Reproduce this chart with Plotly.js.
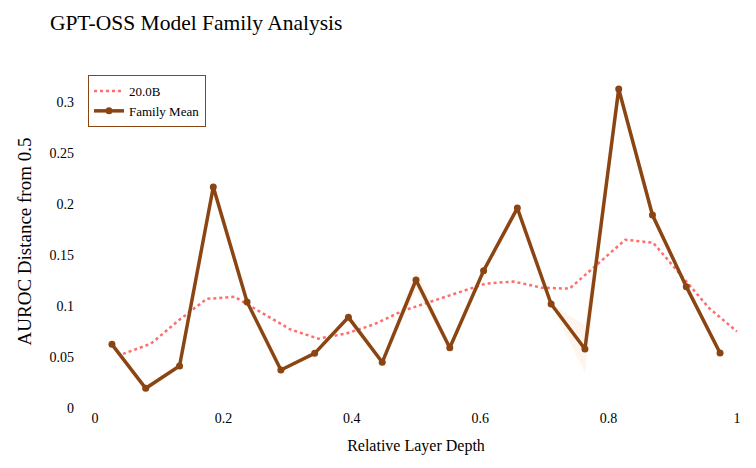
<!DOCTYPE html>
<html>
<head>
<meta charset="utf-8">
<script src="https://cdn.plot.ly/plotly-3.0.1.min.js"></script>
<style>html,body{margin:0;padding:0;background:#fff;}#chart{width:756px;height:468px;}</style>
</head>
<body>
<div id="chart"></div>
<script>
// 20.0B model: relative layer depth (layer / 23) and AUROC distance from 0.5
const modelX = [1/23, 2/23, 3/23, 4/23, 5/23, 6/23, 7/23, 8/23, 9/23, 10/23, 11/23, 12/23,
                13/23, 14/23, 15/23, 16/23, 17/23, 18/23, 19/23, 20/23, 21/23, 22/23, 23/23];
const modelY = [0.053, 0.063, 0.086, 0.107, 0.109, 0.093, 0.077, 0.068, 0.073, 0.082, 0.095, 0.104,
                0.113, 0.122, 0.124, 0.118, 0.117, 0.141, 0.165, 0.162, 0.130, 0.098, 0.075];

// Family mean (binned depth)
const meanX = [0.0263, 0.0789, 0.1316, 0.1842, 0.2368, 0.2895, 0.3421, 0.3947, 0.4474, 0.5,
               0.5526, 0.6053, 0.6579, 0.7105, 0.7632, 0.8158, 0.8684, 0.9211, 0.9737];
const meanY = [0.0624, 0.0193, 0.0412, 0.2167, 0.104, 0.0373, 0.0536, 0.0889, 0.0448, 0.1255,
               0.0591, 0.1346, 0.196, 0.102, 0.0578, 0.3127, 0.1892, 0.119, 0.054];
const meanSpread = [0.002, 0.002, 0.002, 0.002, 0.002, 0.002, 0.002, 0.002, 0.002, 0.010,
                    0.002, 0.002, 0.002, 0.001, 0.023, 0.002, 0.002, 0.002, 0.002];

const lowerY = meanY.map((v, i) => v - meanSpread[i]);
const upperY = meanY.map((v, i) => v + meanSpread[i]);

const FONT = '"Liberation Serif", "Times New Roman", Times, serif';
const BROWN = '#8B4513';

const traces = [
  {x: meanX, y: lowerY, mode: 'lines', line: {width: 0, color: 'rgba(0,0,0,0)'},
   showlegend: false, hoverinfo: 'skip'},
  {x: meanX, y: upperY, mode: 'lines', line: {width: 0, color: 'rgba(0,0,0,0)'},
   fill: 'tonexty', fillcolor: 'rgba(240,140,70,0.09)', showlegend: false, hoverinfo: 'skip'},
  {x: modelX, y: modelY, name: '20.0B', mode: 'lines',
   line: {color: 'rgba(255,60,60,0.75)', width: 2.5, dash: 'dot'}},
  {x: meanX, y: meanY, name: 'Family Mean', mode: 'lines+markers',
   line: {color: BROWN, width: 3.5}, marker: {color: BROWN, size: 7}}
];

const layout = {
  width: 756, height: 468,
  margin: {l: 88, r: 12, t: 75, b: 60},
  paper_bgcolor: '#fff', plot_bgcolor: '#fff',
  font: {family: FONT, size: 14, color: '#000'},
  title: {text: 'GPT-OSS Model Family Analysis', font: {family: FONT, size: 21.5, color: '#000'},
          x: 0.066, xanchor: 'left', y: 0.952, yanchor: 'middle'},
  xaxis: {title: {text: 'Relative Layer Depth', font: {size: 16}, standoff: 14}, range: [-0.011, 1.011],
          showgrid: false, zeroline: false, showline: false, ticks: '',
          tickvals: [0, 0.2, 0.4, 0.6, 0.8, 1], ticktext: ['0', '0.2', '0.4', '0.6', '0.8', '1'],
          tickfont: {size: 14}},
  yaxis: {title: {text: 'AUROC Distance from 0.5', font: {size: 19}, standoff: 12}, range: [0, 0.3265],
          showgrid: false, zeroline: false, showline: false, ticks: '',
          tickvals: [0, 0.05, 0.1, 0.15, 0.2, 0.25, 0.3],
          ticktext: ['0', '0.05', '0.1', '0.15', '0.2', '0.25', '0.3'],
          tickfont: {size: 14}, ticklabelstandoff: 13},
  legend: {x: 0, y: 1, xanchor: 'left', yanchor: 'top', bgcolor: '#fff', traceorder: 'normal',
           bordercolor: BROWN, borderwidth: 1, font: {family: FONT, size: 13, color: '#000'}},
  showlegend: true
};

Plotly.newPlot('chart', traces, layout, {displayModeBar: false, staticPlot: true});
</script>
</body>
</html>
